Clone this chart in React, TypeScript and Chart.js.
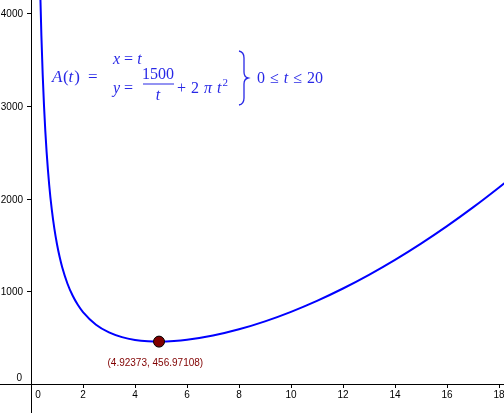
import React, { useEffect, useRef } from "react";
import { Chart, registerables } from "chart.js";

Chart.register(...registerables);

const tValues = [0.3, 0.35, 0.4, 0.45, 0.5, 0.55, 0.6, 0.7, 0.8, 0.9, 1.0, 1.1, 1.2, 1.4, 1.6, 1.8, 2.0, 2.5, 3.0, 3.5, 4.0, 4.5, 4.92373, 5.5, 6, 7, 8, 9, 10, 11, 12, 13, 14, 15, 16, 17, 18, 18.5];
const areaValues = [5000.6, 4286.5, 3751.0, 3334.6, 3001.6, 2729.2, 2502.3, 2145.9, 1879.0, 1671.8, 1506.3, 1371.2, 1259.0, 1083.7, 953.6, 853.7, 775.1, 639.3, 556.5, 505.5, 475.5, 460.6, 456.97, 462.8, 476.2, 522.2, 589.6, 675.6, 778.3, 896.6, 1029.8, 1177.2, 1338.6, 1513.7, 1702.2, 1904.0, 2119.1, 2231.5];

// Marked minimum
const minT = [4.92373];
const minA = [456.97108];
const minLabel = "(4.92373, 456.97108)";

// Axis ticks
const xTicks = [0, 2, 4, 6, 8, 10, 12, 14, 16, 18];
const yTicks = [0, 1000, 2000, 3000, 4000];

// View window
const xMin = -1.1923;
const xMax = 18.1923;
const yMin = -312.7;
const yMax = 4140.2;

const FORMULA_COLOR = "rgb(40,40,230)";
const SERIF = '"Liberation Serif", "Times New Roman", serif';
const SANS = '"Liberation Sans", Arial, sans-serif';

function drawParts(ctx: CanvasRenderingContext2D, x: number, base: number, parts: [string, boolean, number?][], size = 16) {
  let cx = x;
  for (const [txt, italic, gap] of parts) {
    ctx.font = `${italic ? "italic " : ""}${size}px ${SERIF}`;
    ctx.fillText(txt, cx, base);
    cx += ctx.measureText(txt).width + (gap ?? 0);
  }
  return cx;
}

const geoPlugin = {
  id: "geoAxes",
  beforeDatasetsDraw(chart: any) {
    const { ctx, scales, width, height } = chart;
    const xs = scales.x;
    const ys = scales.y;
    const x0 = Math.round(xs.getPixelForValue(0));
    const y0 = Math.round(ys.getPixelForValue(0));
    ctx.save();
    ctx.fillStyle = "#000";
    ctx.fillRect(x0, 0, 1, height);
    ctx.fillRect(0, y0, width, 1);
    ctx.font = `10px ${SANS}`;
    ctx.textBaseline = "alphabetic";
    ctx.textAlign = "center";
    xTicks.forEach((v) => {
      const px = Math.round(xs.getPixelForValue(v));
      if (v !== 0) ctx.fillRect(px, y0 + 1, 1, 3);
      ctx.fillText(String(v), v === 0 ? px + 7 : px, y0 + 14);
    });
    ctx.textAlign = "right";
    yTicks.forEach((v) => {
      const py = Math.round(ys.getPixelForValue(v));
      if (v !== 0) {
        ctx.fillRect(x0 - 4, py, 4, 1);
        ctx.fillText(String(v), x0 - 8, py + 4);
      } else {
        ctx.fillText(String(v), x0 - 9, py - 3);
      }
    });
    ctx.restore();
  },
  afterDatasetsDraw(chart: any) {
    const { ctx, scales } = chart;
    const px = scales.x.getPixelForValue(minT[0]);
    const py = scales.y.getPixelForValue(minA[0]);
    ctx.save();
    ctx.fillStyle = "rgb(128,0,0)";
    ctx.font = `10px ${SANS}`;
    ctx.textAlign = "left";
    ctx.textBaseline = "alphabetic";
    ctx.fillText(minLabel, px - 51.5, py + 24.5);

    // Formula
    ctx.fillStyle = FORMULA_COLOR;
    ctx.strokeStyle = FORMULA_COLOR;
    drawParts(ctx, 52, 82, [["A", true, 0.5], ["(", false], ["t", true, 1], [")", false]], 17);
    drawParts(ctx, 88, 82, [["=", false]], 17);
    // row 1
    drawParts(ctx, 113, 64, [["x", true, 4], ["=", false, 4], ["t", true]]);
    // row 2
    drawParts(ctx, 113, 93, [["y", true, 4], ["=", false]]);
    ctx.font = `16px ${SERIF}`;
    ctx.textAlign = "center";
    ctx.fillText("1500", 158, 79);
    ctx.font = `italic 16px ${SERIF}`;
    ctx.fillText("t", 158, 100);
    ctx.fillRect(143, 83.5, 31, 1);
    ctx.textAlign = "left";
    const end = drawParts(ctx, 177, 93, [["+", false, 5], ["2", false, 5], ["π", true, 5], ["t", true, 1]]);
    ctx.font = `11px ${SERIF}`;
    ctx.fillText("2", end, 86);
    // brace
    ctx.lineWidth = 1.3;
    ctx.beginPath();
    ctx.moveTo(239, 51);
    ctx.quadraticCurveTo(244, 52, 244, 58);
    ctx.lineTo(244, 72);
    ctx.quadraticCurveTo(244, 77, 248, 78);
    ctx.quadraticCurveTo(244, 79, 244, 84);
    ctx.lineTo(244, 98);
    ctx.quadraticCurveTo(244, 104, 239, 105);
    ctx.stroke();
    drawParts(ctx, 257, 83, [["0", false, 5], ["≤", false, 5], ["t", true, 5], ["≤", false, 5], ["20", false]]);
    ctx.restore();
  },
};

export default function App() {
  const ref = useRef<HTMLCanvasElement | null>(null);
  useEffect(() => {
    document.body.style.margin = "0";
    const canvas = ref.current;
    if (!canvas) return;
    const chart = new Chart(canvas, {
      type: "scatter",
      data: {
        datasets: [
          {
            data: tValues.map((t, i) => ({ x: t, y: areaValues[i] })),
            showLine: true,
            borderColor: "rgb(0,0,255)",
            borderWidth: 2,
            pointRadius: 0,
            cubicInterpolationMode: "monotone",
            order: 2,
          } as any,
          {
            data: minT.map((t, i) => ({ x: t, y: minA[i] })),
            pointRadius: 5.5,
            backgroundColor: "rgb(128,0,0)",
            borderColor: "#000",
            borderWidth: 1,
            order: 1,
          },
        ],
      },
      options: {
        animation: false,
        responsive: false,
        maintainAspectRatio: false,
        layout: { padding: 0, autoPadding: false },
        plugins: { legend: { display: false }, tooltip: { enabled: false } },
        events: [],
        scales: {
          x: { type: "linear", min: xMin, max: xMax, display: false },
          y: { type: "linear", min: yMin, max: yMax, display: false },
        },
      } as any,
      plugins: [geoPlugin],
    });
    return () => chart.destroy();
  }, []);
  return (
    <div style={{ width: 504, height: 413, background: "#fff" }}>
      <canvas ref={ref} width={504} height={413} style={{ display: "block", width: 504, height: 413 }} />
    </div>
  );
}
